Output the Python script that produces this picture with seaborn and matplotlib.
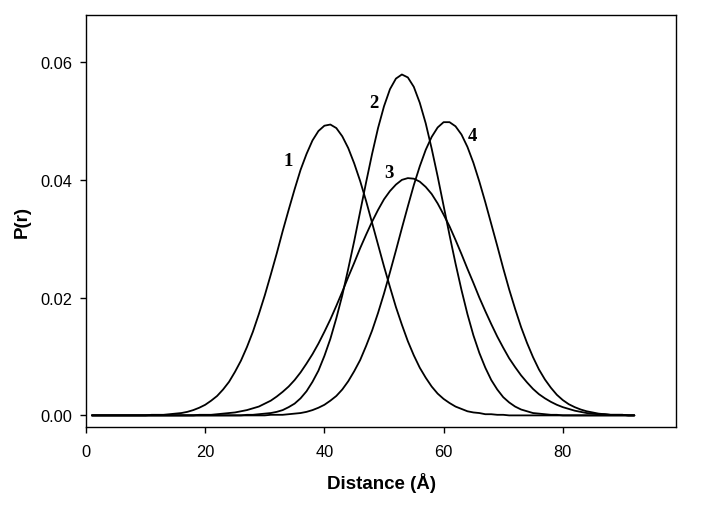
import numpy as np
import pandas as pd
import matplotlib
matplotlib.use("Agg")
import matplotlib.pyplot as plt
import seaborn as sns

# distance grid (Angstrom), read every 1 A from the figure
distance = list(range(1, 93))

# P(r) values x 1e4
p1 = [0] * 10 + [1, 1, 1, 2, 3, 4, 6, 9, 13, 18, 25, 33, 44,
      57, 74, 93, 116, 142, 172, 204, 239, 275, 313, 349, 384, 417, 444, 467, 483, 492, 494, 488, 474, 454, 428, 398,
      364, 327, 290, 253, 218, 184, 154, 126, 102, 81, 64, 49, 37, 28, 21, 15, 11, 7, 5, 4, 2, 2, 1,
      1] + [0] * 22
p2 = [0] * 26 + [1, 1, 2, 3, 4, 6, 9, 14, 20, 29, 41, 57, 76, 101, 130, 165, 204, 249, 296, 346,
      396, 444, 488, 525, 554, 572, 579, 574, 558, 531, 496, 453, 406, 356, 306, 258, 213, 172, 136, 106, 81, 60, 44,
      31, 22, 15, 10, 7, 4, 3, 2, 1, 1] + [0] * 13
p3 = [0] * 18 + [1, 1, 1, 2, 3,
      4, 5, 7, 9, 12, 15, 20, 25, 32, 40, 49, 60, 73, 88, 104, 122, 142, 163, 186, 210, 235, 259, 284,
      307, 329, 349, 367, 381, 392, 400, 403, 402, 397, 388, 376, 360, 341, 321, 298, 274, 249, 225, 200, 177, 155, 134,
      115, 97, 82, 68, 56, 45, 36, 29, 23, 18, 14, 11, 8, 6, 4, 3, 2, 2, 1, 1, 1, 0, 0]
p4 = [0] * 30 + [1, 1, 1, 2, 3, 4, 6, 9, 13, 18, 25, 33, 44, 58, 75, 94,
      118, 144, 174, 207, 243, 280, 318, 355, 391, 423, 451, 473, 489, 498, 498, 491, 477, 456, 429, 397, 362, 325, 288,
      250, 214, 181, 150, 123, 99, 78, 61, 47, 35, 26, 19, 14, 10, 7, 5, 3, 2, 1, 1, 1, 0, 0]

curve_names = ["1", "2", "3", "4"]
label_x = [33.9, 48.3, 50.8, 64.9]
label_y = [0.0433, 0.0531, 0.0413, 0.0475]

frames = []
for name, vals in zip(curve_names, [p1, p2, p3, p4]):
    frames.append(pd.DataFrame({"Distance": distance, "P": np.array(vals) / 1e4, "curve": name}))
df = pd.concat(frames, ignore_index=True)

sns.set_style("ticks")
plt.rcParams['font.family'] = ['Liberation Sans', 'DejaVu Sans']
plt.rcParams['text.color'] = 'black'
plt.rcParams['axes.labelcolor'] = 'black'

fig = plt.figure(figsize=(7.27, 5.10), dpi=100)
ax = fig.add_axes([0.1183, 0.1608, 0.8116, 0.8078])

sns.lineplot(data=df, x="Distance", y="P", hue="curve", palette=["black"] * 4,
             linewidth=1.3, legend=False, ax=ax)

for name, lx, ly in zip(curve_names, label_x, label_y):
    ax.text(lx, ly, name, family=['Liberation Serif', 'DejaVu Serif'], fontweight='bold',
            fontsize=13.5, color='black', ha='center', va='center')

ax.set_xlim(0, 99)
ax.set_ylim(-0.00197, 0.068)
ax.set_xticks([0, 20, 40, 60, 80])
ax.set_yticks([0.0, 0.02, 0.04, 0.06])
ax.set_yticklabels(["0.00", "0.02", "0.04", "0.06"])
ax.tick_params(direction='out', length=4.5, width=1, labelsize=11.8, colors='black')
ax.tick_params(axis='x', pad=8)
ax.tick_params(axis='y', pad=5.5)
for sp in ax.spines.values():
    sp.set_linewidth(1.0)
    sp.set_color('black')

ax.set_xlabel("Distance (Å)", fontsize=13.5, fontweight='bold', labelpad=9)
ax.set_ylabel("P(r)", fontsize=13.5, fontweight='bold', labelpad=7)

fig.savefig("out.png", dpi=100)
